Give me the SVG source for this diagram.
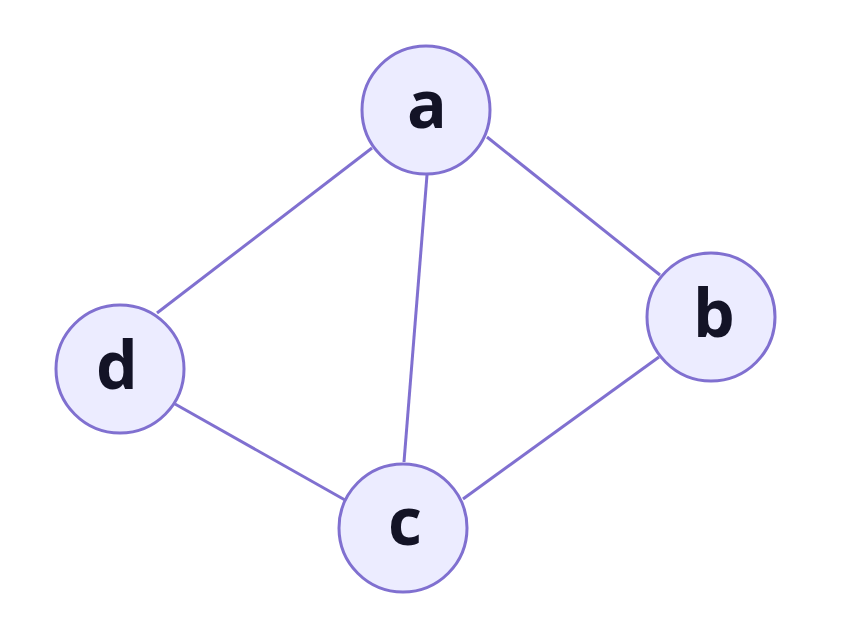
<svg xmlns="http://www.w3.org/2000/svg" width="842" height="626" viewBox="0 0 842 626">
<style>
.edge{stroke:#8070d0;stroke-width:3;fill:none}
.node circle{fill:#ECECFF;stroke:#8070d0;stroke-width:3}
.node text{font-family:"Open Sans","Noto Sans",sans-serif;font-weight:bold;font-size:66px;fill:#131326;text-anchor:middle}
</style>
<rect width="842" height="626" fill="#ffffff"/>
<g id="edges">
<line class="edge" x1="372" y1="148" x2="157" y2="313"/>
<line class="edge" x1="427" y1="175" x2="404" y2="462"/>
<line class="edge" x1="487" y1="137" x2="660" y2="275"/>
<line class="edge" x1="659" y1="357" x2="463" y2="499"/>
<line class="edge" x1="175" y1="404" x2="345" y2="500"/>
</g>
<g id="node-a" class="node"><circle cx="426" cy="110" r="64"/><text x="427" y="128">a</text></g>
<g id="node-b" class="node"><circle cx="711" cy="317" r="64"/><text x="714" y="337">b</text></g>
<g id="node-c" class="node"><circle cx="403" cy="528" r="64"/><text x="405" y="545">c</text></g>
<g id="node-d" class="node"><circle cx="120" cy="369" r="64"/><text x="117" y="389">d</text></g>
</svg>
